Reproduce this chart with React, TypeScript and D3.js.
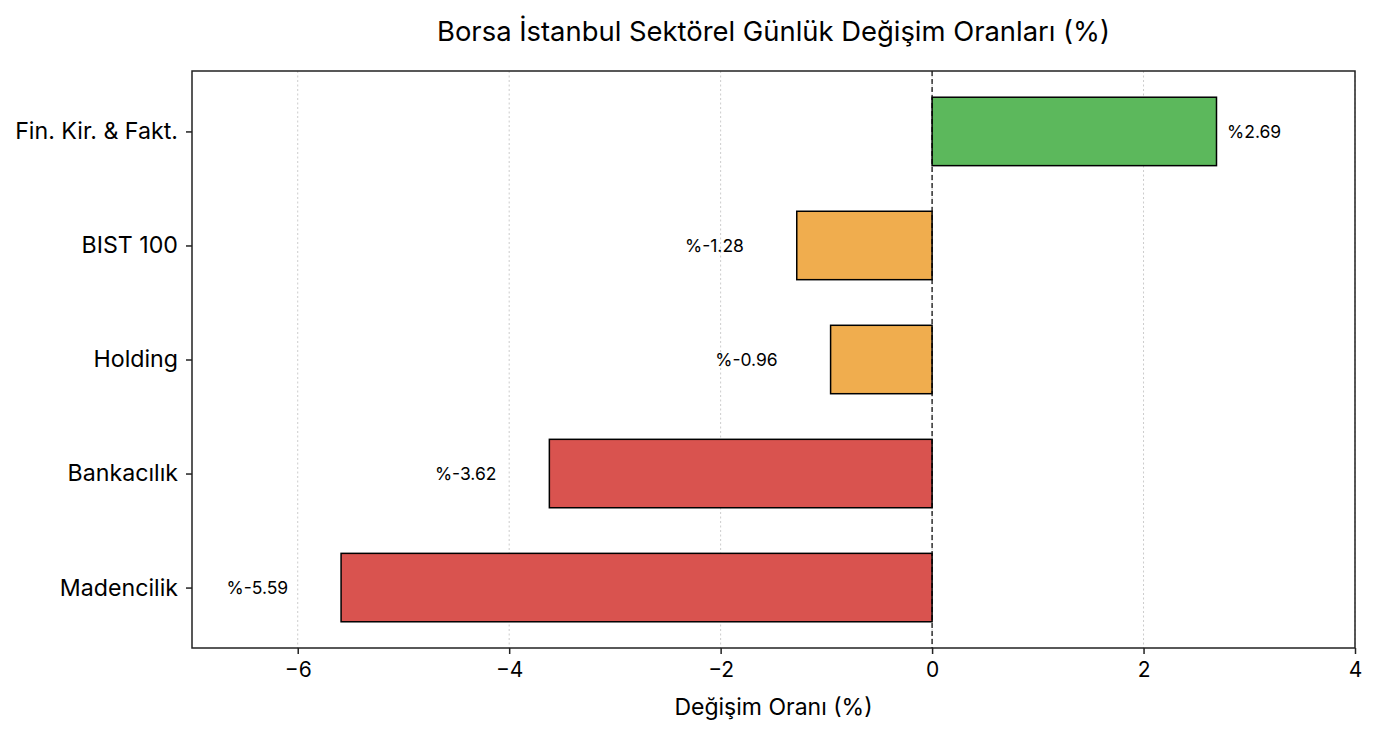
import * as d3 from "d3";
import { useEffect, useRef } from "react";

const sectors = ["Fin. Kir. & Fakt.", "BIST 100", "Holding", "Bankacılık", "Madencilik"];
const changes = [2.69, -1.28, -0.96, -3.62, -5.59];
const barColors = ["#5cb85c", "#f0ad4e", "#f0ad4e", "#d9534f", "#d9534f"];
const xTicks = [-6, -4, -2, 0, 2, 4];

const FONT = "Inter, 'Open Sans', sans-serif";

export default function App() {
  const ref = useRef<SVGSVGElement | null>(null);

  useEffect(() => {
    if (!ref.current) return;
    const svg = d3.select(ref.current);
    svg.selectAll("*").remove();

    const width = 1377;
    const height = 734;
    const margin = { top: 71, right: 22, bottom: 86, left: 192 };
    const innerW = width - margin.left - margin.right;
    const innerH = height - margin.top - margin.bottom;

    const x = d3.scaleLinear().domain([-7, 4]).range([0, innerW]);
    // matplotlib-style y: categories at 0..4, bar height 0.6, 5% margins
    const y = d3.scaleLinear().domain([-0.53, 4.53]).range([0, innerH]);
    const barH = 0.6;

    const g = svg
      .append("g")
      .attr("transform", `translate(${margin.left},${margin.top})`);

    // grid
    g.append("g")
      .selectAll("line")
      .data(xTicks)
      .join("line")
      .attr("x1", (d) => x(d))
      .attr("x2", (d) => x(d))
      .attr("y1", 0)
      .attr("y2", innerH)
      .attr("stroke", "#cccccc")
      .attr("stroke-width", 1)
      .attr("stroke-dasharray", "2,2.5");

    // bars
    g.append("g")
      .selectAll("rect")
      .data(changes)
      .join("rect")
      .attr("x", (d) => x(Math.min(0, d)))
      .attr("y", (_, i) => y(i - barH / 2))
      .attr("width", (d) => Math.abs(x(d) - x(0)))
      .attr("height", y(barH) - y(0))
      .attr("fill", (_, i) => barColors[i])
      .attr("stroke", "#000")
      .attr("stroke-width", 1.5);

    // zero line
    g.append("line")
      .attr("x1", x(0))
      .attr("x2", x(0))
      .attr("y1", 0)
      .attr("y2", innerH)
      .attr("stroke", "#000")
      .attr("stroke-width", 1.2)
      .attr("stroke-dasharray", "5,3");

    // value labels
    g.append("g")
      .selectAll("text")
      .data(changes)
      .join("text")
      .attr("x", (d) => (d >= 0 ? x(d + 0.1) : x(d - 0.5)))
      .attr("y", (_, i) => y(i))
      .attr("dy", "0.35em")
      .attr("text-anchor", (d) => (d >= 0 ? "start" : "end"))
      .attr("font-family", FONT)
      .attr("font-size", 17.5)
      .attr("fill", "#000")
      .text((d) => `%${d.toFixed(2)}`);

    // frame
    g.append("rect")
      .attr("x", 0)
      .attr("y", 0)
      .attr("width", innerW)
      .attr("height", innerH)
      .attr("fill", "none")
      .attr("stroke", "#222")
      .attr("stroke-width", 1.5);

    // x axis
    const xAxis = g
      .append("g")
      .attr("transform", `translate(0,${innerH})`)
      .call(
        d3
          .axisBottom(x)
          .tickValues(xTicks)
          .tickSize(6)
          .tickPadding(8)
          .tickFormat((d) => (d < 0 ? `\u2212${Math.abs(d as number)}` : `${d}`))
      );
    xAxis.select(".domain").remove();
    xAxis.selectAll("line").attr("stroke", "#222").attr("stroke-width", 1.5);
    xAxis
      .selectAll("text")
      .attr("font-family", FONT)
      .attr("font-size", 21)
      .attr("fill", "#000");

    // y axis
    const yAxis = g.append("g").call(
      d3
        .axisLeft(y)
        .tickValues(d3.range(sectors.length))
        .tickSize(6)
        .tickPadding(8)
        .tickFormat((d) => sectors[d as number])
    );
    yAxis.select(".domain").remove();
    yAxis.selectAll("line").attr("stroke", "#222").attr("stroke-width", 1.5);
    yAxis
      .selectAll("text")
      .attr("font-family", FONT)
      .attr("font-size", 23.2)
      .attr("fill", "#000");

    // title
    svg
      .append("text")
      .attr("x", margin.left + innerW / 2)
      .attr("y", 41)
      .attr("text-anchor", "middle")
      .attr("font-family", FONT)
      .attr("font-size", 27.4)
      .attr("fill", "#000")
      .text("Borsa İstanbul Sektörel Günlük Değişim Oranları (%)");

    // x label
    svg
      .append("text")
      .attr("x", margin.left + innerW / 2)
      .attr("y", 715)
      .attr("text-anchor", "middle")
      .attr("font-family", FONT)
      .attr("font-size", 23)
      .attr("fill", "#000")
      .text("Değişim Oranı (%)");
  }, []);

  return (
    <svg
      ref={ref}
      width={1377}
      height={734}
      style={{ display: "block", position: "absolute", left: 0, top: 0 }}
    />
  );
}
